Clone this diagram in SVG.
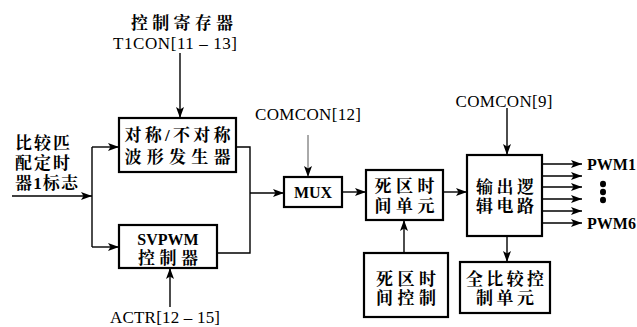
<svg xmlns="http://www.w3.org/2000/svg" width="637" height="327" viewBox="0 0 637 327">
<defs>
<marker id="ah" markerWidth="11" markerHeight="8" refX="11" refY="4" orient="auto" markerUnits="userSpaceOnUse">
<path d="M0,0 L11,4 L0,8 L2.5,4 Z" fill="#000"/>
</marker>
</defs>
<style>
.box{fill:#fff;stroke:#000;stroke-width:2.2}
.ln{fill:none;stroke:#000;stroke-width:1.4}
.thin{fill:none;stroke:#555;stroke-width:1}
.cn{font-family:"Liberation Serif","Noto Serif CJK SC","Noto Sans CJK SC",serif;font-size:17px;fill:#000;text-anchor:middle;font-weight:bold}
.lt{font-family:"Liberation Serif","Noto Sans CJK SC",serif;font-size:17px;fill:#000;text-anchor:middle}
.lb{font-family:"Liberation Serif",serif;font-size:16px;fill:#000;font-weight:bold;text-anchor:middle}
</style>
<rect width="637" height="327" fill="#fff"/>

<g id="connectors">
<line class="ln" x1="180" y1="53" x2="180" y2="118" marker-end="url(#ah)"/>
<line class="ln" x1="12" y1="196" x2="92" y2="196" marker-end="url(#ah)"/>
<line class="ln" x1="92" y1="147" x2="92" y2="247"/>
<line class="ln" x1="92" y1="147" x2="119" y2="147" marker-end="url(#ah)"/>
<line class="ln" x1="92" y1="247" x2="119" y2="247" marker-end="url(#ah)"/>
<polyline class="ln" points="236,147 250,147 250,253 217,253"/>
<line class="ln" x1="250" y1="193" x2="284" y2="193" marker-end="url(#ah)"/>
<line class="thin" x1="308" y1="135" x2="308" y2="177" marker-end="url(#ah)"/>
<line class="ln" x1="342" y1="192" x2="366" y2="192" marker-end="url(#ah)"/>
<line class="ln" x1="404" y1="253" x2="404" y2="220" marker-end="url(#ah)"/>
<line class="ln" x1="443" y1="192" x2="467" y2="192" marker-end="url(#ah)"/>
<line class="ln" x1="507" y1="108" x2="507" y2="155" marker-end="url(#ah)"/>
<line class="ln" x1="542" y1="164" x2="582" y2="164" marker-end="url(#ah)"/>
<line class="ln" x1="542" y1="176" x2="582" y2="176" marker-end="url(#ah)"/>
<line class="ln" x1="542" y1="187" x2="582" y2="187" marker-end="url(#ah)"/>
<line class="ln" x1="542" y1="199" x2="582" y2="199" marker-end="url(#ah)"/>
<line class="ln" x1="542" y1="211" x2="582" y2="211" marker-end="url(#ah)"/>
<line class="ln" x1="542" y1="223" x2="582" y2="223" marker-end="url(#ah)"/>
<line class="ln" x1="507" y1="236" x2="507" y2="262" marker-end="url(#ah)"/>
<line class="ln" x1="170" y1="307" x2="170" y2="268" marker-end="url(#ah)"/>
</g>

<g id="labels">
<text class="cn" x="182" y="29" textLength="102" lengthAdjust="spacing">控制寄存器</text>
<text class="lt" x="175" y="49" textLength="124" lengthAdjust="spacing">T1CON[11 – 13]</text>
<text class="cn" x="15" y="149" style="text-anchor:start" textLength="55" lengthAdjust="spacing">比较匹</text>
<text class="cn" x="15" y="169" style="text-anchor:start" textLength="55" lengthAdjust="spacing">配定时</text>
<text class="cn" x="15" y="189" style="text-anchor:start" textLength="63" lengthAdjust="spacing">器1标志</text>
<text class="lt" x="308" y="120" textLength="106" lengthAdjust="spacing">COMCON[12]</text>
<text class="lt" x="504" y="107" textLength="97" lengthAdjust="spacing">COMCON[9]</text>
<text class="lt" x="165" y="323" textLength="110" lengthAdjust="spacing">ACTR[12 – 15]</text>
<text class="lb" x="587" y="170" style="text-anchor:start">PWM1</text>
<text class="lb" x="587" y="229" style="text-anchor:start">PWM6</text>
<ellipse cx="603" cy="184" rx="3" ry="3.2" fill="#000"/>
<ellipse cx="603" cy="192" rx="3" ry="3.2" fill="#000"/>
<ellipse cx="603" cy="200" rx="3" ry="3.2" fill="#000"/>
</g>

<g id="n-wave">
<rect class="box" x="119" y="118" width="117" height="54"/>
<text class="cn" x="177.5" y="141" textLength="106" lengthAdjust="spacing">对称/不对称</text>
<text class="cn" x="177.5" y="163" textLength="106" lengthAdjust="spacing">波形发生器</text>
</g>

<g id="n-svpwm">
<rect class="box" x="119" y="225" width="98" height="43"/>
<text class="lb" x="168" y="245">SVPWM</text>
<text class="cn" x="168" y="264" textLength="60" lengthAdjust="spacing">控制器</text>
</g>

<g id="n-mux">
<rect class="box" x="284" y="177" width="58" height="30"/>
<text class="lb" x="313" y="198">MUX</text>
</g>

<g id="n-dead">
<rect class="box" x="366" y="170" width="77" height="50"/>
<text class="cn" x="404.5" y="192" textLength="60" lengthAdjust="spacing">死区时</text>
<text class="cn" x="404.5" y="212" textLength="60" lengthAdjust="spacing">间单元</text>
</g>

<g id="n-deadctl">
<rect class="box" x="364" y="253" width="84" height="64"/>
<text class="cn" x="406" y="285" textLength="60" lengthAdjust="spacing">死区时</text>
<text class="cn" x="406" y="304" textLength="60" lengthAdjust="spacing">间控制</text>
</g>

<g id="n-output">
<rect class="box" x="467" y="155" width="75" height="81"/>
<text class="cn" x="505" y="193" textLength="58" lengthAdjust="spacing">输出逻</text>
<text class="cn" x="505" y="212" textLength="58" lengthAdjust="spacing">辑电路</text>
</g>

<g id="n-full">
<rect class="box" x="460" y="262" width="90" height="51"/>
<text class="cn" x="505" y="285" textLength="78" lengthAdjust="spacing">全比较控</text>
<text class="cn" x="505" y="304" textLength="58" lengthAdjust="spacing">制单元</text>
</g>
</svg>
